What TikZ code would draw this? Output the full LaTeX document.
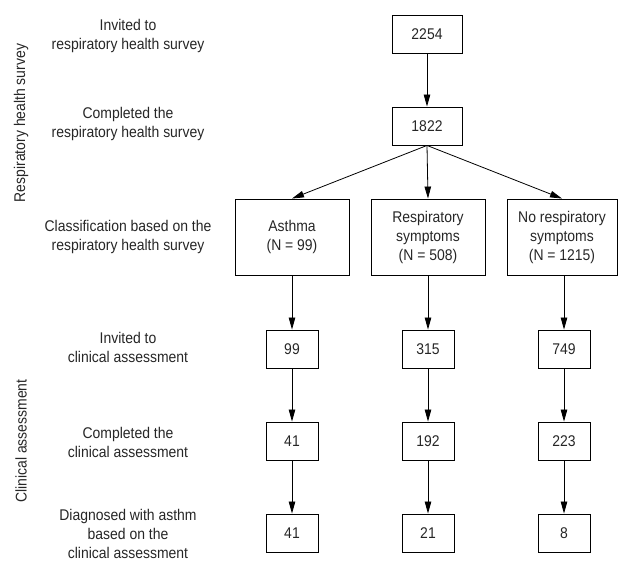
\documentclass[tikz,border=0pt]{standalone}
\usepackage{fontspec}
\setmainfont{Liberation Sans}[FakeStretch=0.9]
\usetikzlibrary{arrows.meta}

\begin{document}
\begin{tikzpicture}[x=1pt,y=-1pt,
    box/.style={draw,line width=0.9pt,inner sep=0pt,align=center,text=black!85,font=\fontsize{15.5}{19}\selectfont},
    small/.style={box,minimum width=52pt,minimum height=38pt},
    big/.style={box,minimum width=114pt,minimum height=76pt},
    lbl/.style={align=center,text=black!85,font=\fontsize{15.5}{19}\selectfont},
    arr/.style={-{Triangle[length=12pt,width=6.5pt]},line width=0.8pt}]
    \useasboundingbox (0,0) rectangle (618,562);
    \node[box,minimum width=70pt,minimum height=38pt] (n2254) at (427,34) {2254};
    \node[box,minimum width=70pt,minimum height=38pt] (n1822) at (427,126) {1822};
    \node[big] (asthma) at (292,237) {Asthma\\(N = 99)};
    \node[big] (resp) at (428,237) {Respiratory\\symptoms\\(N = 508)};
    \node[big,minimum width=110pt] (noresp) at (562,237) {No respiratory\\symptoms\\(N = 1215)};
    \node[small] (a1) at (292,349) {99};
    \node[small] (r1) at (428,349) {315};
    \node[small] (n1) at (564,349) {749};
    \node[small] (a2) at (292,441) {41};
    \node[small] (r2) at (428,441) {192};
    \node[small] (n2) at (564,441) {223};
    \node[small] (a3) at (292,533) {41};
    \node[small] (r3) at (428,533) {21};
    \node[small] (n3) at (564,533) {8};
    \draw[arr] (n2254) -- (n1822);
    \draw[arr] (n1822.south) -- (asthma.north);
    \draw[arr] (n1822.south) -- (resp.north);
    \draw[arr] (n1822.south) -- (noresp.north);
    \draw[arr] (asthma) -- (a1);
    \draw[arr] (resp) -- (r1);
    \draw[arr] (noresp.south -| n1) -- (n1);
    \draw[arr] (a1) -- (a2);
    \draw[arr] (r1) -- (r2);
    \draw[arr] (n1) -- (n2);
    \draw[arr] (a2) -- (a3);
    \draw[arr] (r2) -- (r3);
    \draw[arr] (n2) -- (n3);
    \node[lbl] (linv) at (128,36) {Invited to\\respiratory health survey};
    \node[lbl] (lcomp) at (128,124) {Completed the\\respiratory health survey};
    \node[lbl] (lclass) at (128,237) {Classification based on the\\respiratory health survey};
    \node[lbl] (linvc) at (128,347) {Invited to\\clinical assessment};
    \node[lbl] (lcompc) at (128,442) {Completed the\\clinical assessment};
    \node[lbl] (ldiag) at (128,534) {Diagnosed with asthm\\based on the\\clinical assessment};
    \node[lbl,rotate=90] (lsurvey) at (21,123) {Respiratory health survey};
    \node[lbl,rotate=90] (lclinic) at (21,441) {Clinical assessment};
\end{tikzpicture}
\end{document}
